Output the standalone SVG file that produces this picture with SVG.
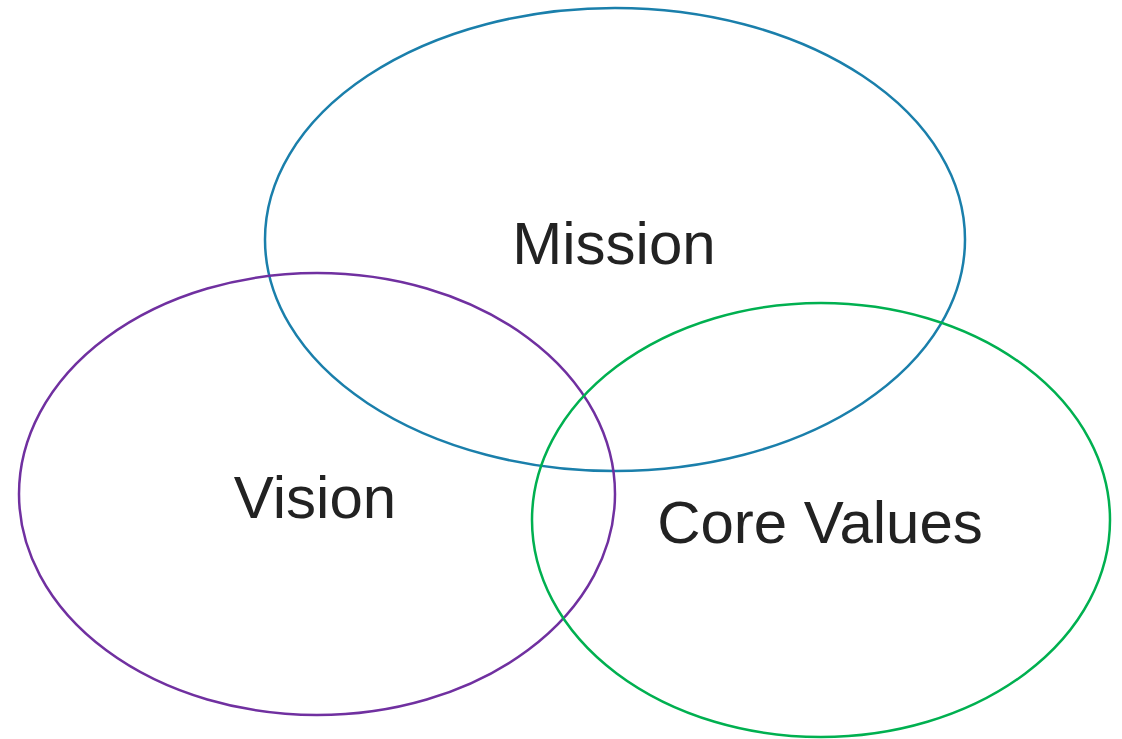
<svg xmlns="http://www.w3.org/2000/svg" width="1122" height="739" viewBox="0 0 1122 739">
<style>
.c{fill:none;stroke-width:2.5}
.t{font-family:"Liberation Sans",Arial,sans-serif;font-size:60px;fill:#222;text-anchor:middle}
</style>
<rect width="1122" height="739" fill="#fff"/>
<g id="mission"><ellipse class="c" cx="615" cy="239.5" rx="350" ry="231.5" stroke="#1a7fab"/><text class="t" x="614" y="264">Mission</text></g>
<g id="vision"><ellipse class="c" cx="317" cy="494" rx="298" ry="221" stroke="#7030a0"/><text class="t" x="315" y="518">Vision</text></g>
<g id="core"><ellipse class="c" cx="821" cy="520" rx="289" ry="217" stroke="#00b050"/><text class="t" x="820" y="543">Core Values</text></g>
<g id="connectors"/>
</svg>
